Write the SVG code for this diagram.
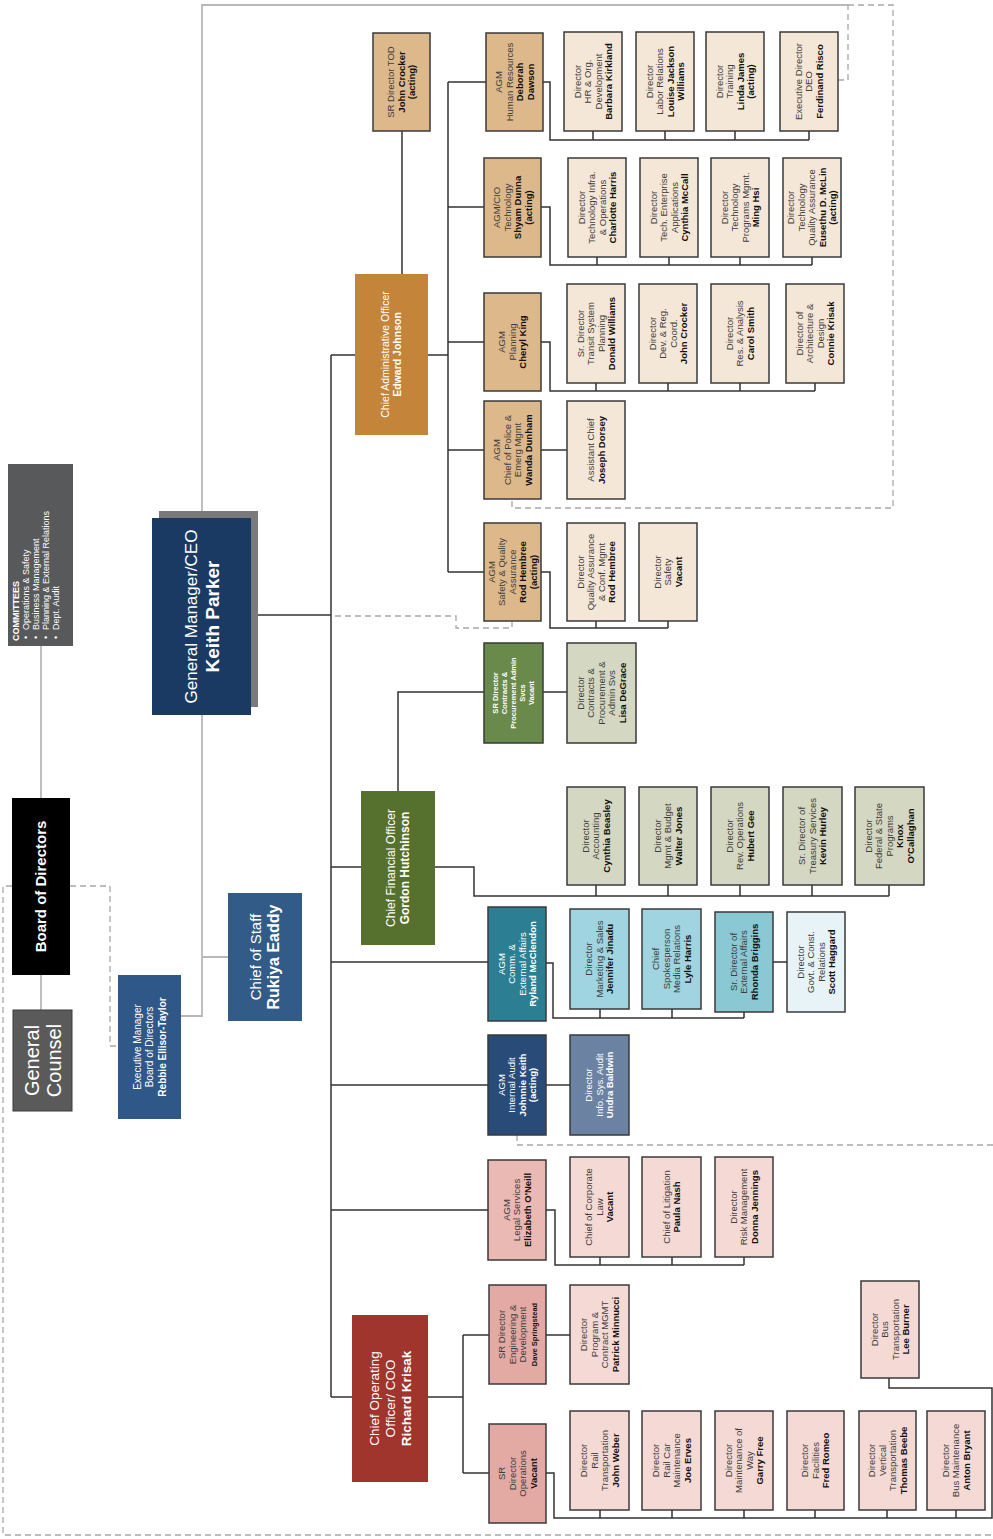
<svg xmlns="http://www.w3.org/2000/svg" width="993" height="1539" viewBox="0 0 993 1539">
<style>
text{font-family:"Liberation Sans",Arial,sans-serif;text-anchor:middle}
.t{font-size:9.5px;fill:#3d3d3d}
.t .b{font-weight:bold;fill:#111}
.w,.w tspan,.w .b{fill:#fff}
.bx{stroke:#3a3a3a;stroke-width:1.5}
.ln{fill:none;stroke:#333;stroke-width:1.5}
.gl{fill:none;stroke:#b8b8b8;stroke-width:1.8}
.dl{fill:none;stroke:#a8a8a8;stroke-width:1.3;stroke-dasharray:6 4}
.c1{fill:#f5e7d7}.c2{fill:#ddb88b}.c3{fill:#c4853a}
.g1{fill:#d4d7c1}.g2{fill:#6a8a4b}.g3{fill:#56702d}
.b1{fill:#9fd4e0}.b2{fill:#8ac8d4}.b3{fill:#e8f3f7}.b4{fill:#2c7f92}
.a1{fill:#284b78}.a2{fill:#6b82a2}
.r1{fill:#f5d9d5}.r2{fill:#ebb9b3}.r3{fill:#e3aaa4}.r4{fill:#a0352d}
</style>

<g id="connectors">
  <path class="gl" d="M41,646 V798 M41,975 V1010 M202,518 V5 H848 M202,715 V1016 H181 M202,957 H228"/>
  <path class="dl" d="M848,5 H893 V508 H512 V499 M838,80 H848 V5 M335,616 H456 V628 H512 V621 M517,1135 V1145 H993 M12,886 H3 V1535 H993 M70,886 H110 V1046 H118"/>
  <path class="ln" d="M251,615 H331 M331,355 V1397 M331,355 H355 M331,867 H361 M331,962 H488 M331,1085 H488 M331,1210 H488 M331,1397 H352"/>
  <path class="ln" d="M402,131 V274 M428,355 H448 M448,82 V572 M448,82 H486 M448,207 H484 M448,342 H484 M448,450 H484 M448,572 H484"/>
  <path class="ln" d="M543,82 H550 V140 H809 M593,131 V140 M665,131 V140 M735,131 V140 M809,131 V140"/>
  <path class="ln" d="M541,207 H550 V265 H812 M597,257 V265 M669,257 V265 M740,257 V265 M812,257 V265"/>
  <path class="ln" d="M541,342 H550 V391 H815 M596,383 V391 M668,383 V391 M740,383 V391 M815,383 V391"/>
  <path class="ln" d="M541,450 H567"/>
  <path class="ln" d="M541,572 H550 V628 H668 M596,621 V628 M668,621 V628"/>
  <path class="ln" d="M398,791 V692 H484 M543,692 H567"/>
  <path class="ln" d="M435,867 H474 V896 H889 M596,885 V896 M668,885 V896 M740,885 V896 M812,885 V896 M889,885 V896"/>
  <path class="ln" d="M546,963 H553 V1018 H744 M600,1009 V1018 M672,1009 V1018 M744,1012 V1018 M773,962 H787"/>
  <path class="ln" d="M546,1085 H570"/>
  <path class="ln" d="M546,1210 H555 V1265 H744 M600,1257 V1265 M672,1257 V1265 M744,1257 V1265"/>
  <path class="ln" d="M428,1397 H463 M463,1335 V1473 M463,1335 H489 M463,1473 H489 M546,1335 H570"/>
  <path class="ln" d="M546,1473 H554 V1518 H992 V1388 H889 V1378 M600,1510 V1518 M672,1510 V1518 M744,1510 V1518 M815,1510 V1518 M887,1510 V1518 M956,1510 V1518"/>
</g>

<g id="committees"><rect x="8" y="464" width="65" height="182" fill="#58595b"/>
<text class="t w" style="font-size:9px;text-anchor:start" transform="translate(19 641) rotate(-90)"><tspan x="0" class="b">COMMITTEES</tspan><tspan x="2" dy="10">•</tspan><tspan x="11">Operations &amp; Safety</tspan><tspan x="2" dy="10">•</tspan><tspan x="11">Business Management</tspan><tspan x="2" dy="10">•</tspan><tspan x="11">Planning &amp; External Relations</tspan><tspan x="2" dy="10">•</tspan><tspan x="11">Dept. Audit</tspan></text></g>

<g id="board"><rect x="12" y="798" width="58" height="177" fill="#000"/>
<text class="t w" style="font-size:15px;font-weight:bold" transform="translate(41 886.5) rotate(-90)"><tspan x="0" dy="5">Board of  Directors</tspan></text></g>

<g id="counsel"><rect x="13" y="1010" width="59" height="101" fill="#5a5a5a" stroke="#3a3a3a" stroke-width="1"/>
<text class="t w" style="font-size:20px" transform="translate(42.5 1060.5) rotate(-90)"><tspan x="0" dy="-3.7">General</tspan><tspan x="0" dy="22">Counsel</tspan></text></g>

<g id="execmgr"><rect x="118" y="975" width="63" height="144" fill="#2f5788"/>
<text class="t w" style="font-size:10px" transform="translate(149.5 1047) rotate(-90)"><tspan x="0" dy="-9">Executive Manager</tspan><tspan x="0" dy="12.5">Board of Directors</tspan><tspan x="0" dy="12.5" class="b">Rebbie Ellisor-Taylor</tspan></text></g>

<g id="chiefofstaff"><rect x="228" y="893" width="74" height="128" fill="#335b88"/>
<text class="t w" style="font-size:15px" transform="translate(265 957) rotate(-90)"><tspan x="0" dy="-3.7">Chief of Staff</tspan><tspan x="0" dy="18" class="b" style="font-size:16px">Rukiya Eaddy</tspan></text></g>

<g id="ceo"><rect x="159" y="511" width="99" height="196" fill="#7a7a7a"/><rect x="152" y="518" width="99" height="197" fill="#1b3a63"/>
<text class="t w" style="font-size:17px" transform="translate(201.5 616.5) rotate(-90)"><tspan x="0" dy="-5">General Manager/CEO</tspan><tspan x="0" dy="22" class="b" style="font-size:19px">Keith Parker</tspan></text></g>

<g id="cao"><rect class="c3" x="355" y="274" width="73" height="161"/>
<text class="t w" style="font-size:10.5px" transform="translate(391.5 354.5) rotate(-90)"><tspan x="0" dy="-2.6">Chief Administrative Officer</tspan><tspan x="0" dy="12.5" class="b">Edward Johnson</tspan></text></g>

<g id="tod"><rect class="bx c2" x="373" y="33" width="57" height="98"/>
<text class="t" transform="translate(401.5 82) rotate(-90)"><tspan x="0" dy="-7.2">SR Director TOD</tspan><tspan x="0" dy="10.5" class="b">John Crocker</tspan><tspan x="0" dy="10.5" class="b">(acting)</tspan></text></g>

<g id="agm-hr"><rect class="bx c2" x="486" y="33" width="57" height="98"/>
<text class="t" transform="translate(514.5 82) rotate(-90)"><tspan x="0" dy="-12.4">AGM</tspan><tspan x="0" dy="10.5">Human Resources</tspan><tspan x="0" dy="10.5" class="b">Deborah</tspan><tspan x="0" dy="10.5" class="b">Dawson</tspan></text></g>

<g id="dir-hr"><rect class="bx c1" x="564" y="32" width="58" height="99"/>
<text class="t" transform="translate(593 81.5) rotate(-90)"><tspan x="0" dy="-12.4">Director</tspan><tspan x="0" dy="10.5">HR &amp; Org.</tspan><tspan x="0" dy="10.5">Development</tspan><tspan x="0" dy="10.5" class="b">Barbara Kirkland</tspan></text></g>

<g id="dir-labor"><rect class="bx c1" x="636" y="32" width="58" height="99"/>
<text class="t" transform="translate(665 81.5) rotate(-90)"><tspan x="0" dy="-12.4">Director</tspan><tspan x="0" dy="10.5">Labor Relations</tspan><tspan x="0" dy="10.5" class="b">Louise Jackson</tspan><tspan x="0" dy="10.5" class="b">Williams</tspan></text></g>

<g id="dir-training"><rect class="bx c1" x="706" y="32" width="58" height="99"/>
<text class="t" transform="translate(735 81.5) rotate(-90)"><tspan x="0" dy="-12.4">Director</tspan><tspan x="0" dy="10.5">Training</tspan><tspan x="0" dy="10.5" class="b">Linda James</tspan><tspan x="0" dy="10.5" class="b">(acting)</tspan></text></g>

<g id="dir-deo"><rect class="bx c1" x="780" y="32" width="58" height="99"/>
<text class="t" transform="translate(809 81.5) rotate(-90)"><tspan x="0" dy="-7.2">Executive Director</tspan><tspan x="0" dy="10.5">DEO</tspan><tspan x="0" dy="10.5" class="b">Ferdinand Risco</tspan></text></g>

<g id="agm-cio"><rect class="bx c2" x="484" y="158" width="57" height="99"/>
<text class="t" transform="translate(512.5 207.5) rotate(-90)"><tspan x="0" dy="-12.4">AGM/CIO</tspan><tspan x="0" dy="10.5">Technology</tspan><tspan x="0" dy="10.5" class="b">Shyam Dunna</tspan><tspan x="0" dy="10.5" class="b">(acting)</tspan></text></g>

<g id="dir-infra"><rect class="bx c1" x="568" y="158" width="58" height="99"/>
<text class="t" transform="translate(597 207.5) rotate(-90)"><tspan x="0" dy="-12.4">Director</tspan><tspan x="0" dy="10.5">Technology Infra.</tspan><tspan x="0" dy="10.5">&amp; Operations</tspan><tspan x="0" dy="10.5" class="b">Charlotte Harris</tspan></text></g>

<g id="dir-apps"><rect class="bx c1" x="640" y="158" width="58" height="99"/>
<text class="t" transform="translate(669 207.5) rotate(-90)"><tspan x="0" dy="-12.4">Director</tspan><tspan x="0" dy="10.5">Tech. Enterprise</tspan><tspan x="0" dy="10.5">Applications</tspan><tspan x="0" dy="10.5" class="b">Cynthia McCall</tspan></text></g>

<g id="dir-progmgmt"><rect class="bx c1" x="711" y="158" width="58" height="99"/>
<text class="t" transform="translate(740 207.5) rotate(-90)"><tspan x="0" dy="-12.4">Director</tspan><tspan x="0" dy="10.5">Technology</tspan><tspan x="0" dy="10.5">Programs Mgmt.</tspan><tspan x="0" dy="10.5" class="b">Ming Hsi</tspan></text></g>

<g id="dir-techqa"><rect class="bx c1" x="783" y="158" width="58" height="99"/>
<text class="t" transform="translate(812 207.5) rotate(-90)"><tspan x="0" dy="-17.7">Director</tspan><tspan x="0" dy="10.5">Technology</tspan><tspan x="0" dy="10.5">Quality Assurance</tspan><tspan x="0" dy="10.5" class="b">Eusethu D. McLin</tspan><tspan x="0" dy="10.5" class="b">(acting)</tspan></text></g>

<g id="agm-planning"><rect class="bx c2" x="484" y="293" width="57" height="98"/>
<text class="t" transform="translate(512.5 342) rotate(-90)"><tspan x="0" dy="-7.2">AGM</tspan><tspan x="0" dy="10.5">Planning</tspan><tspan x="0" dy="10.5" class="b">Cheryl King</tspan></text></g>

<g id="dir-transit"><rect class="bx c1" x="567" y="284" width="58" height="99"/>
<text class="t" transform="translate(596 333.5) rotate(-90)"><tspan x="0" dy="-12.4">Sr. Director</tspan><tspan x="0" dy="10.5">Transit System</tspan><tspan x="0" dy="10.5">Planning</tspan><tspan x="0" dy="10.5" class="b">Donald Williams</tspan></text></g>

<g id="dir-devreg"><rect class="bx c1" x="639" y="284" width="58" height="99"/>
<text class="t" transform="translate(668 333.5) rotate(-90)"><tspan x="0" dy="-12.4">Director</tspan><tspan x="0" dy="10.5">Dev. &amp; Reg.</tspan><tspan x="0" dy="10.5">Coord.</tspan><tspan x="0" dy="10.5" class="b">John Crocker</tspan></text></g>

<g id="dir-res"><rect class="bx c1" x="711" y="284" width="58" height="99"/>
<text class="t" transform="translate(740 333.5) rotate(-90)"><tspan x="0" dy="-7.2">Director</tspan><tspan x="0" dy="10.5">Res. &amp; Analysis</tspan><tspan x="0" dy="10.5" class="b">Carol Smith</tspan></text></g>

<g id="dir-arch"><rect class="bx c1" x="786" y="284" width="58" height="99"/>
<text class="t" transform="translate(815 333.5) rotate(-90)"><tspan x="0" dy="-12.4">Director of</tspan><tspan x="0" dy="10.5">Architecture &amp;</tspan><tspan x="0" dy="10.5">Design</tspan><tspan x="0" dy="10.5" class="b">Connie Krisak</tspan></text></g>

<g id="agm-police"><rect class="bx c2" x="484" y="401" width="57" height="98"/>
<text class="t" transform="translate(512.5 450) rotate(-90)"><tspan x="0" dy="-12.4">AGM</tspan><tspan x="0" dy="10.5">Chief of Police &amp;</tspan><tspan x="0" dy="10.5">Emerg Mgmt</tspan><tspan x="0" dy="10.5" class="b">Wanda Dunham</tspan></text></g>

<g id="asst-chief"><rect class="bx c1" x="567" y="401" width="58" height="98"/>
<text class="t" transform="translate(596 450) rotate(-90)"><tspan x="0" dy="-2">Assistant Chief</tspan><tspan x="0" dy="10.5" class="b">Joseph Dorsey</tspan></text></g>

<g id="agm-safety"><rect class="bx c2" x="484" y="523" width="57" height="98"/>
<text class="t" transform="translate(512.5 572) rotate(-90)"><tspan x="0" dy="-17.7">AGM</tspan><tspan x="0" dy="10.5">Safety &amp; Quality</tspan><tspan x="0" dy="10.5">Assurance</tspan><tspan x="0" dy="10.5" class="b">Rod Hembree</tspan><tspan x="0" dy="10.5" class="b">(acting)</tspan></text></g>

<g id="dir-qa"><rect class="bx c1" x="567" y="523" width="58" height="98"/>
<text class="t" transform="translate(596 572) rotate(-90)"><tspan x="0" dy="-12.4">Director</tspan><tspan x="0" dy="10.5">Quality Assurance</tspan><tspan x="0" dy="10.5">&amp; Conf. Mgmt</tspan><tspan x="0" dy="10.5" class="b">Rod Hembree</tspan></text></g>

<g id="dir-safety"><rect class="bx c1" x="639" y="523" width="58" height="98"/>
<text class="t" transform="translate(668 572) rotate(-90)"><tspan x="0" dy="-7.2">Director</tspan><tspan x="0" dy="10.5">Safety</tspan><tspan x="0" dy="10.5" class="b">Vacant</tspan></text></g>

<g id="cfo"><rect class="g3" x="361" y="791" width="74" height="154"/>
<text class="t w" style="font-size:12px" transform="translate(398 868) rotate(-90)"><tspan x="0" dy="-2.8">Chief Financial Officer</tspan><tspan x="0" dy="14" class="b">Gordon Hutchinson</tspan></text></g>

<g id="sr-contracts"><rect class="bx g2" x="484" y="643" width="59" height="100"/>
<text class="t w" style="font-size:7.5px;font-weight:bold" transform="translate(513.5 693) rotate(-90)"><tspan x="0" dy="-15.4">SR Director</tspan><tspan x="0" dy="9">Contracts &amp;</tspan><tspan x="0" dy="9">Procurement Admin</tspan><tspan x="0" dy="9">Svcs</tspan><tspan x="0" dy="9">Vacant</tspan></text></g>

<g id="dir-contracts"><rect class="bx g1" x="567" y="643" width="69" height="100"/>
<text class="t" transform="translate(601.5 693) rotate(-90)"><tspan x="0" dy="-17.7">Director</tspan><tspan x="0" dy="10.5">Contracts &amp;</tspan><tspan x="0" dy="10.5">Procurement &amp;</tspan><tspan x="0" dy="10.5">Admin Svs</tspan><tspan x="0" dy="10.5" class="b">Lisa DeGrace</tspan></text></g>

<g id="dir-accounting"><rect class="bx g1" x="567" y="787" width="58" height="98"/>
<text class="t" transform="translate(596 836) rotate(-90)"><tspan x="0" dy="-7.2">Director</tspan><tspan x="0" dy="10.5">Accounting</tspan><tspan x="0" dy="10.5" class="b">Cynthia Beasley</tspan></text></g>

<g id="dir-budget"><rect class="bx g1" x="639" y="787" width="58" height="98"/>
<text class="t" transform="translate(668 836) rotate(-90)"><tspan x="0" dy="-7.2">Director</tspan><tspan x="0" dy="10.5">Mgmt &amp; Budget</tspan><tspan x="0" dy="10.5" class="b">Walter Jones</tspan></text></g>

<g id="dir-revops"><rect class="bx g1" x="711" y="787" width="58" height="98"/>
<text class="t" transform="translate(740 836) rotate(-90)"><tspan x="0" dy="-7.2">Director</tspan><tspan x="0" dy="10.5">Rev. Operations</tspan><tspan x="0" dy="10.5" class="b">Hubert Gee</tspan></text></g>

<g id="dir-treasury"><rect class="bx g1" x="783" y="787" width="59" height="98"/>
<text class="t" transform="translate(812.5 836) rotate(-90)"><tspan x="0" dy="-7.2">Sr. Director of</tspan><tspan x="0" dy="10.5">Treasury Services</tspan><tspan x="0" dy="10.5" class="b">Kevin Hurley</tspan></text></g>

<g id="dir-federal"><rect class="bx g1" x="855" y="787" width="69" height="98"/>
<text class="t" transform="translate(889.5 836) rotate(-90)"><tspan x="0" dy="-17.7">Director</tspan><tspan x="0" dy="10.5">Federal &amp; State</tspan><tspan x="0" dy="10.5">Programs</tspan><tspan x="0" dy="10.5" class="b">Knox</tspan><tspan x="0" dy="10.5" class="b">O'Callaghan</tspan></text></g>

<g id="agm-comm"><rect class="bx b4" x="488" y="907" width="58" height="114"/>
<text class="t w" transform="translate(517 964) rotate(-90)"><tspan x="0" dy="-12.4">AGM</tspan><tspan x="0" dy="10.5">Comm. &amp;</tspan><tspan x="0" dy="10.5">External Affairs</tspan><tspan x="0" dy="10.5" class="b">Ryland McClendon</tspan></text></g>

<g id="dir-marketing"><rect class="bx b1" x="570" y="909" width="59" height="100"/>
<text class="t" transform="translate(599.5 959) rotate(-90)"><tspan x="0" dy="-7.2">Director</tspan><tspan x="0" dy="10.5">Marketing &amp; Sales</tspan><tspan x="0" dy="10.5" class="b">Jennifer Jinadu</tspan></text></g>

<g id="spokesperson"><rect class="bx b1" x="642" y="909" width="59" height="100"/>
<text class="t" transform="translate(671.5 959) rotate(-90)"><tspan x="0" dy="-12.4">Chief</tspan><tspan x="0" dy="10.5">Spokesperson</tspan><tspan x="0" dy="10.5">Media Relations</tspan><tspan x="0" dy="10.5" class="b">Lyle Harris</tspan></text></g>

<g id="dir-extaffairs"><rect class="bx b2" x="715" y="912" width="58" height="100"/>
<text class="t" transform="translate(744 962) rotate(-90)"><tspan x="0" dy="-7.2">Sr. Director of</tspan><tspan x="0" dy="10.5">External Affairs</tspan><tspan x="0" dy="10.5" class="b">Rhonda Briggins</tspan></text></g>

<g id="dir-govt"><rect class="bx b3" x="787" y="912" width="58" height="100"/>
<text class="t" transform="translate(816 962) rotate(-90)"><tspan x="0" dy="-12.4">Director</tspan><tspan x="0" dy="10.5">Govt. &amp; Const.</tspan><tspan x="0" dy="10.5">Relations</tspan><tspan x="0" dy="10.5" class="b">Scott Haggard</tspan></text></g>

<g id="agm-audit"><rect class="bx a1" x="488" y="1035" width="58" height="100"/>
<text class="t w" transform="translate(517 1085) rotate(-90)"><tspan x="0" dy="-12.4">AGM</tspan><tspan x="0" dy="10.5">Internal Audit</tspan><tspan x="0" dy="10.5" class="b">Johnnie Keith</tspan><tspan x="0" dy="10.5" class="b">(acting)</tspan></text></g>

<g id="dir-isaudit"><rect class="bx a2" x="570" y="1035" width="59" height="100"/>
<text class="t w" transform="translate(599.5 1085) rotate(-90)"><tspan x="0" dy="-7.2">Director</tspan><tspan x="0" dy="10.5">Info. Sys. Audit</tspan><tspan x="0" dy="10.5" class="b">Undra Baldwin</tspan></text></g>

<g id="agm-legal"><rect class="bx r2" x="488" y="1160" width="58" height="100"/>
<text class="t" transform="translate(517 1210) rotate(-90)"><tspan x="0" dy="-7.2">AGM</tspan><tspan x="0" dy="10.5">Legal Services</tspan><tspan x="0" dy="10.5" class="b">Elizabeth O'Neill</tspan></text></g>

<g id="chief-corplaw"><rect class="bx r1" x="570" y="1157" width="59" height="100"/>
<text class="t" transform="translate(599.5 1207) rotate(-90)"><tspan x="0" dy="-7.2">Chief of Corporate</tspan><tspan x="0" dy="10.5">Law</tspan><tspan x="0" dy="10.5" class="b">Vacant</tspan></text></g>

<g id="chief-litigation"><rect class="bx r1" x="642" y="1157" width="59" height="100"/>
<text class="t" transform="translate(671.5 1207) rotate(-90)"><tspan x="0" dy="-2">Chief of Litigation</tspan><tspan x="0" dy="10.5" class="b">Paula Nash</tspan></text></g>

<g id="dir-risk"><rect class="bx r1" x="715" y="1157" width="58" height="100"/>
<text class="t" transform="translate(744 1207) rotate(-90)"><tspan x="0" dy="-7.2">Director</tspan><tspan x="0" dy="10.5">Risk Management</tspan><tspan x="0" dy="10.5" class="b">Donna Jennings</tspan></text></g>

<g id="coo"><rect class="r4" x="352" y="1315" width="76" height="167"/>
<text class="t w" style="font-size:13.5px" transform="translate(390 1398.5) rotate(-90)"><tspan x="0" dy="-11.3">Chief Operating</tspan><tspan x="0" dy="16">Officer/ COO</tspan><tspan x="0" dy="16" class="b">Richard Krisak</tspan></text></g>

<g id="sr-eng"><rect class="bx r3" x="489" y="1285" width="57" height="99"/>
<text class="t" transform="translate(517.5 1334.5) rotate(-90)"><tspan x="0" dy="-12.4">SR Director</tspan><tspan x="0" dy="10.5">Engineering &amp;</tspan><tspan x="0" dy="10.5">Development</tspan><tspan x="0" dy="10.5" class="b" style="font-size:7.5px">Dave Springstead</tspan></text></g>

<g id="dir-program"><rect class="bx r1" x="570" y="1285" width="59" height="99"/>
<text class="t" transform="translate(599.5 1334.5) rotate(-90)"><tspan x="0" dy="-12.4">Director</tspan><tspan x="0" dy="10.5">Program &amp;</tspan><tspan x="0" dy="10.5">Contract MGMT</tspan><tspan x="0" dy="10.5" class="b">Patrick Minnucci</tspan></text></g>

<g id="dir-bus"><rect class="bx r1" x="861" y="1281" width="58" height="97"/>
<text class="t" transform="translate(890 1329.5) rotate(-90)"><tspan x="0" dy="-12.4">Director</tspan><tspan x="0" dy="10.5">Bus</tspan><tspan x="0" dy="10.5">Transportation</tspan><tspan x="0" dy="10.5" class="b">Lee Burner</tspan></text></g>

<g id="sr-ops"><rect class="bx r3" x="489" y="1424" width="57" height="99"/>
<text class="t" transform="translate(517.5 1473.5) rotate(-90)"><tspan x="0" dy="-12.4">SR</tspan><tspan x="0" dy="10.5">Director</tspan><tspan x="0" dy="10.5">Operations</tspan><tspan x="0" dy="10.5" class="b">Vacant</tspan></text></g>

<g id="dir-rail"><rect class="bx r1" x="570" y="1411" width="59" height="99"/>
<text class="t" transform="translate(599.5 1460.5) rotate(-90)"><tspan x="0" dy="-12.4">Director</tspan><tspan x="0" dy="10.5">Rail</tspan><tspan x="0" dy="10.5">Transportation</tspan><tspan x="0" dy="10.5" class="b">John Weber</tspan></text></g>

<g id="dir-railcar"><rect class="bx r1" x="642" y="1411" width="59" height="99"/>
<text class="t" transform="translate(671.5 1460.5) rotate(-90)"><tspan x="0" dy="-12.4">Director</tspan><tspan x="0" dy="10.5">Rail Car</tspan><tspan x="0" dy="10.5">Maintenance</tspan><tspan x="0" dy="10.5" class="b">Joe Erves</tspan></text></g>

<g id="dir-mow"><rect class="bx r1" x="715" y="1411" width="58" height="99"/>
<text class="t" transform="translate(744 1460.5) rotate(-90)"><tspan x="0" dy="-12.4">Director</tspan><tspan x="0" dy="10.5">Maintenance of</tspan><tspan x="0" dy="10.5">Way</tspan><tspan x="0" dy="10.5" class="b">Garry Free</tspan></text></g>

<g id="dir-facilities"><rect class="bx r1" x="787" y="1411" width="57" height="99"/>
<text class="t" transform="translate(815.5 1460.5) rotate(-90)"><tspan x="0" dy="-7.2">Director</tspan><tspan x="0" dy="10.5">Facilities</tspan><tspan x="0" dy="10.5" class="b">Fred Romeo</tspan></text></g>

<g id="dir-vertical"><rect class="bx r1" x="859" y="1411" width="57" height="99"/>
<text class="t" transform="translate(887.5 1460.5) rotate(-90)"><tspan x="0" dy="-12.4">Director</tspan><tspan x="0" dy="10.5">Vertical</tspan><tspan x="0" dy="10.5">Transportation</tspan><tspan x="0" dy="10.5" class="b">Thomas Beebe</tspan></text></g>

<g id="dir-busmaint"><rect class="bx r1" x="927" y="1411" width="58" height="99"/>
<text class="t" transform="translate(956 1460.5) rotate(-90)"><tspan x="0" dy="-7.2">Director</tspan><tspan x="0" dy="10.5">Bus Maintenance</tspan><tspan x="0" dy="10.5" class="b">Anton Bryant</tspan></text></g>
</svg>
